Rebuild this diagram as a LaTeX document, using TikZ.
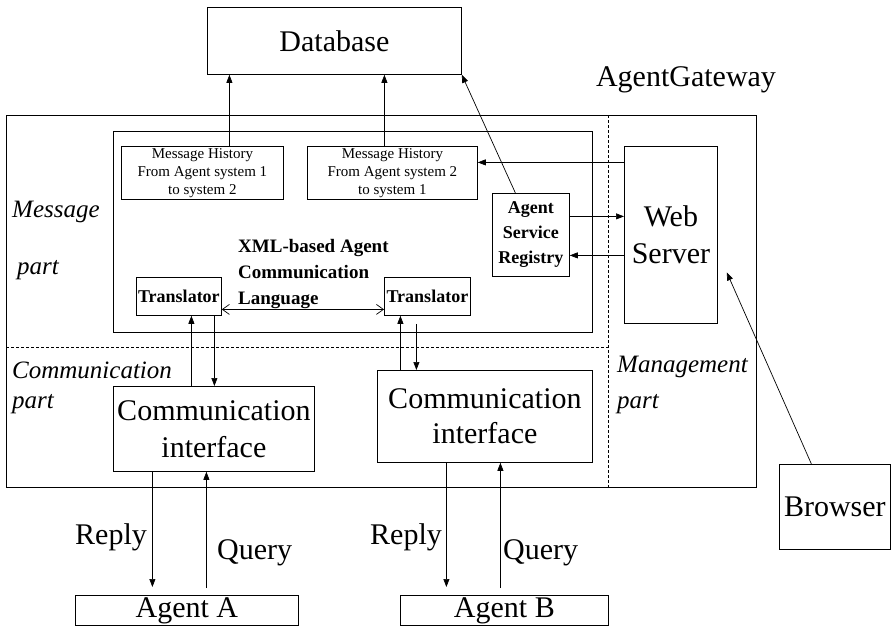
\documentclass[tikz,border=0pt]{standalone}
\usepackage{fontspec}
\setmainfont{Liberation Serif}
\usetikzlibrary{arrows.meta,calc}
\begin{document}
\begin{tikzpicture}[x=1pt,y=-1pt,
  box/.style={draw,line width=0.8pt,inner sep=0pt,anchor=north west,align=center},
  frame/.style={line width=0.8pt},
  sep/.style={line width=0.8pt,dash pattern=on 3pt off 2pt},
  arr/.style={line width=0.7pt,-{Triangle[length=8pt,width=6pt]}},
  dbl/.style={line width=0.7pt,{Straight Barb[length=7pt,width=10pt]}-{Straight Barb[length=7pt,width=10pt]}},
  bigtxt/.style={font=\fontsize{30}{37}\selectfont},
  midtxt/.style={font=\fontsize{30}{35}\selectfont},
  smalltxt/.style={font=\fontsize{15}{18}\selectfont},
  boldtxt/.style={font=\fontsize{18}{25}\selectfont\bfseries},
  xmltxt/.style={font=\fontsize{19}{26}\selectfont\bfseries},
  itl/.style={font=\fontsize{25}{29}\selectfont\itshape,inner sep=0pt,anchor=west},
  lbl/.style={font=\fontsize{30}{34}\selectfont,inner sep=0pt,anchor=west}]
\useasboundingbox (0,0) rectangle (891,634);

% frames
\draw[frame] (6,115) rectangle (756,487);
\draw[frame] (113,131) rectangle (592,332);
\draw[sep] (6,347) -- (608,347);
\draw[sep] (608,115) -- (608,487);

% boxes
\node[box,bigtxt,minimum width=254pt,minimum height=67pt] (db) at (207,7) {Database};
\node[box,smalltxt,minimum width=162pt,minimum height=53pt] (mh1) at (121,146) {Message History\\From Agent system 1\\to system 2};
\node[box,smalltxt,minimum width=170pt,minimum height=53pt] (mh2) at (307,146) {Message History\\From Agent system 2\\to system 1};
\node[box,boldtxt,minimum width=77pt,minimum height=83pt] (asr) at (492,193) {Agent\\Service\\Registry};
\node[box,bigtxt,minimum width=93pt,minimum height=177pt] (ws) at (624,146) {Web\\Server};
\node[box,boldtxt,minimum width=85pt,minimum height=38pt] (trl) at (136,277) {Translator};
\node[box,boldtxt,minimum width=86pt,minimum height=38pt] (trr) at (384,277) {Translator};
\node[box,bigtxt,minimum width=201pt,minimum height=85pt] (cil) at (113,386) {Communication\\interface};
\node[box,midtxt,minimum width=215pt,minimum height=92pt] (cir) at (377,370) {Communication\\interface};
\node[box,bigtxt,minimum width=223pt,minimum height=30pt] (aga) at (75,595) {Agent A};
\node[box,bigtxt,minimum width=208pt,minimum height=30pt] (agb) at (400,595) {Agent B};
\node[box,bigtxt,minimum width=111pt,minimum height=85pt] (br) at (779,464) {Browser};

% labels
\node[bigtxt,inner sep=0pt] (gw) at (686,80) {AgentGateway};
\node[xmltxt,inner sep=0pt,anchor=west,align=left] (xml) at (238,274) {XML-based Agent\\Communication\\Language};
\node[itl] (lmsg) at (12,212) {Message};
\node[itl] (lmsgp) at (17,270) {part};
\node[itl] (lcom) at (12,370) {Communication};
\node[itl] (lcomp) at (12,404) {part};
\node[itl] (lman) at (617,367) {Management};
\node[itl] (lmanp) at (617,404) {part};
\node[lbl] (rl) at (75,537) {Reply};
\node[lbl] (ql) at (217,553) {Query};
\node[lbl] (rr) at (370,537) {Reply};
\node[lbl] (qr) at (503,553) {Query};

% connectors to database
\coordinate (p1) at ([xshift=27pt]mh1.north);
\draw[arr] (p1) -- (p1 |- db.south);
\coordinate (p2) at ([xshift=-8pt]mh2.north);
\draw[arr] (p2) -- (p2 |- db.south);
\draw[arr] ([xshift=-15.5pt]asr.north) -- (db.south east);

% web server links
\coordinate (p3) at ([yshift=72.5pt]ws.west);
\draw[arr] (p3) -- (p3 -| mh2.east);
\coordinate (p4) at ([yshift=18.5pt]asr.east);
\draw[arr] (p4) -- (p4 -| ws.west);
\coordinate (p5) at ([yshift=-20.5pt]asr.east);
\draw[arr] (p5 -| ws.west) -- (p5);
\coordinate (wsend) at ([xshift=9pt,yshift=-37.5pt]ws.east);
\draw[arr] ([xshift=-23.5pt]br.north) -- (wsend);

% translators
\coordinate (p6) at ([yshift=-13pt]trl.east);
\draw[dbl] (p6) -- (p6 -| trr.west);
\coordinate (p7) at ([xshift=12.5pt]trl.south);
\draw[arr] (p7 |- cil.north) -- (p7);
\coordinate (p8) at ([xshift=35.5pt]trl.south);
\draw[arr] (p8) -- (p8 |- cil.north);
\coordinate (p9) at ([xshift=-27pt]trr.south);
\draw[arr] (p9 |- cir.north) -- (p9);
\coordinate (p10) at ([xshift=-11pt,yshift=-8pt]trr.south);
\draw[arr] (p10) -- (p10 |- cir.north);

% agents
\coordinate (p11) at ([xshift=-61.5pt]cil.south);
\draw[arr,shorten >=8pt] (p11) -- (p11 |- aga.north);
\coordinate (p12) at ([xshift=-7.5pt]cil.south);
\draw[arr,shorten <=7pt] (p12 |- aga.north) -- (p12);
\coordinate (p13) at ([xshift=-38.5pt]cir.south);
\draw[arr,shorten >=8pt] (p13) -- (p13 |- agb.north);
\coordinate (p14) at ([xshift=15.5pt]cir.south);
\draw[arr,shorten <=7pt] (p14 |- agb.north) -- (p14);
\end{tikzpicture}
\end{document}
